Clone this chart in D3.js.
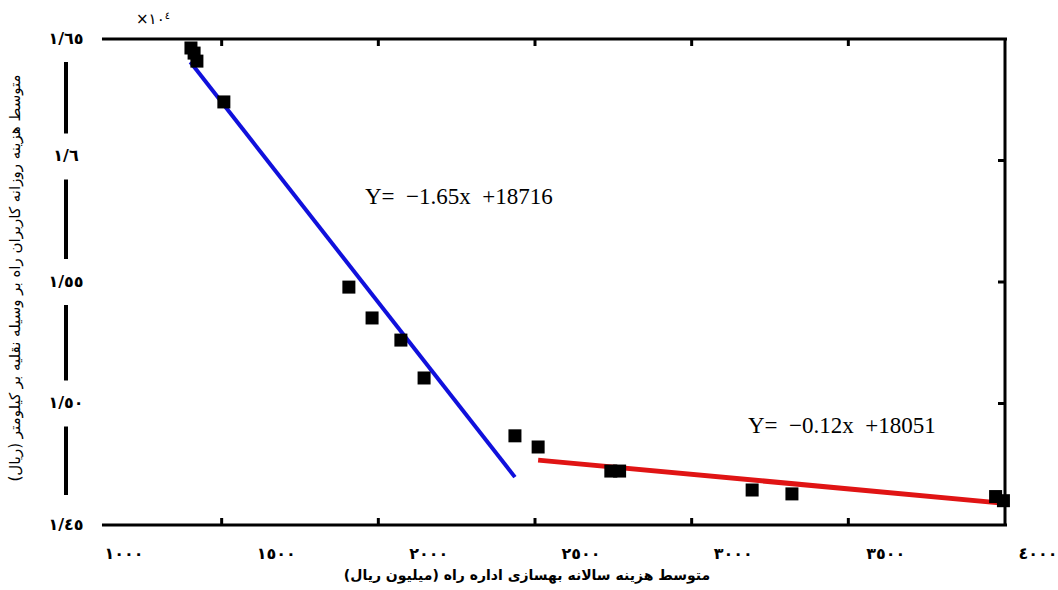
<!DOCTYPE html>
<html>
<head>
<meta charset="utf-8">
<script src="https://cdn.jsdelivr.net/npm/d3@7"></script>
<style>
  body { margin: 0; background: #fff; }
  svg { display: block; }
</style>
</head>
<body>
<div id="chart"></div>
<script>
// data
var pointX = [1402, 1412, 1421, 1507, 1906, 1980, 2072, 2146, 2436, 2510, 2742, 2770, 3193, 3320, 3970, 3995];
var pointY = [16463, 16442, 16409, 16241, 15479, 15352, 15261, 15105, 14867, 14821, 14722, 14722, 14644, 14628, 14617, 14600];

// fitted segments as drawn (start, end)
var blueFit = [[1400, 16405], [2436, 14697]];
var redFit = [[2510, 14767], [3990, 14590]];

var eqBlue = "Y=\u00a0 \u22121.65x\u00a0 +18716";
var eqRed = "Y=\u00a0 \u22120.12x\u00a0 +18051";

var xTicks = [1000, 1500, 2000, 2500, 3000, 3500, 4000];
var xTickLabels = ["١٠٠٠", "١٥٠٠", "٢٠٠٠", "٢٥٠٠", "٣٠٠٠", "٣٥٠٠", "٤٠٠٠"];
var yTicks = [16500, 16000, 15500, 15000, 14500];
var yTickLabels = ["١/٦٥", "١/٦", "١/٥٥", "١/٥٠", "١/٤٥"];

var xTitle = "متوسط هزینه سالانه بهسازی اداره راه (میلیون ریال)";
var yTitle = "متوسط هزینه روزانه کاربران راه بر وسیله نقلیه بر کیلومتر (ریال)";

var width = 1058, height = 590;

var svg = d3.select("#chart")
    .append("svg")
    .attr("width", width)
    .attr("height", height);

var x = d3.scaleLinear().domain([1000, 4000]).range([65, 1005]);
var y = d3.scaleLinear().domain([14500, 16500]).range([525, 39]);
// tick labels in the figure sit a bit off their ticks
var xLab = d3.scaleLinear().domain([1000, 4000]).range([124, 1038]);

var frameStart = 1118;
var arabicFont = "DejaVu Sans";

// frame: top, bottom, right
svg.append("line")
    .attr("x1", x(frameStart)).attr("x2", x(4000) + 2)
    .attr("y1", y(16500)).attr("y2", y(16500))
    .attr("stroke", "#000").attr("stroke-width", 3);
svg.append("line")
    .attr("x1", x(frameStart)).attr("x2", x(4000) + 2)
    .attr("y1", y(14500)).attr("y2", y(14500))
    .attr("stroke", "#000").attr("stroke-width", 3);
svg.append("line")
    .attr("x1", x(4000)).attr("x2", x(4000))
    .attr("y1", y(16500) - 1).attr("y2", y(14500) + 1)
    .attr("stroke", "#000").attr("stroke-width", 3);

// inner ticks on top / bottom
var innerX = xTicks.slice(1, -1);
svg.selectAll(".tt").data(innerX).enter().append("line")
    .attr("x1", d => x(d)).attr("x2", d => x(d))
    .attr("y1", y(16500)).attr("y2", y(16500) + 7)
    .attr("stroke", "#000").attr("stroke-width", 3);
svg.selectAll(".bt").data(innerX).enter().append("line")
    .attr("x1", d => x(d)).attr("x2", d => x(d))
    .attr("y1", y(14500)).attr("y2", y(14500) - 7)
    .attr("stroke", "#000").attr("stroke-width", 3);
// right side ticks
svg.selectAll(".rt").data(yTicks.slice(1, -1)).enter().append("line")
    .attr("x1", x(4000)).attr("x2", x(4000) - 7)
    .attr("y1", d => y(d)).attr("y2", d => y(d))
    .attr("stroke", "#000").attr("stroke-width", 3);

// left axis line, broken by labels
svg.append("line")
    .attr("x1", x(1000) + 1).attr("x2", x(1000) + 1)
    .attr("y1", y(16500) + 22).attr("y2", y(14500) - 30)
    .attr("stroke", "#000").attr("stroke-width", 4);

var yl = svg.selectAll(".yl").data(yTicks).enter().append("g")
    .attr("transform", (d, i) => "translate(" + (x(1000) + 1) + "," + (y(d) - (i == 1 ? 5 : 1)) + ")");
yl.append("rect")
    .attr("x", -22).attr("y", -22).attr("width", 44).attr("height", 46)
    .attr("fill", "#fff");
yl.append("text")
    .attr("text-anchor", "middle")
    .attr("dy", "0.35em")
    .style("font-family", arabicFont)
    .style("font-weight", "bold")
    .style("font-size", "16px")
    .text((d, i) => yTickLabels[i]);

// x tick labels
svg.selectAll(".xl").data(xTicks).enter().append("text")
    .attr("x", d => xLab(d))
    .attr("y", 553)
    .attr("dy", "0.35em")
    .attr("text-anchor", "middle")
    .style("font-family", arabicFont)
    .style("font-weight", "bold")
    .style("font-size", "16px")
    .text((d, i) => xTickLabels[i]);

// exponent
var ex = svg.append("text")
    .attr("x", 136).attr("y", 24)
    .style("font-family", arabicFont)
    .style("font-size", "15px");
ex.append("tspan").text("×١٠");
ex.append("tspan").attr("dy", -5).style("font-size", "10px").text("٤");

// titles
svg.append("text")
    .attr("x", 527).attr("y", 580)
    .attr("text-anchor", "middle")
    .attr("direction", "rtl")
    .style("font-family", arabicFont)
    .style("font-weight", "bold")
    .style("font-size", "14px")
    .text(xTitle);

svg.append("text")
    .attr("transform", "translate(20,278) rotate(-90)")
    .attr("text-anchor", "middle")
    .attr("direction", "rtl")
    .style("font-family", arabicFont)
    .style("font-size", "15px")
    .text(yTitle);

// fitted lines
var line = d3.line().x(d => x(d[0])).y(d => y(d[1]));
svg.append("path").datum(blueFit).attr("d", line)
    .attr("fill", "none").attr("stroke", "#1010dc").attr("stroke-width", 4);
svg.append("path").datum(redFit).attr("d", line)
    .attr("fill", "none").attr("stroke", "#e01414").attr("stroke-width", 5);

// points
var sz = 13;
svg.selectAll(".pt").data(pointX).enter().append("rect")
    .attr("x", (d, i) => x(d) - sz / 2)
    .attr("y", (d, i) => y(pointY[i]) - sz / 2)
    .attr("width", sz).attr("height", sz)
    .attr("fill", "#000");

// equations
svg.append("text")
    .attr("x", 365).attr("y", 204)
    .style("font-family", "Liberation Serif")
    .style("font-size", "23px")
    .text(eqBlue);
svg.append("text")
    .attr("x", 748).attr("y", 433)
    .style("font-family", "Liberation Serif")
    .style("font-size", "23px")
    .text(eqRed);
</script>
</body>
</html>
